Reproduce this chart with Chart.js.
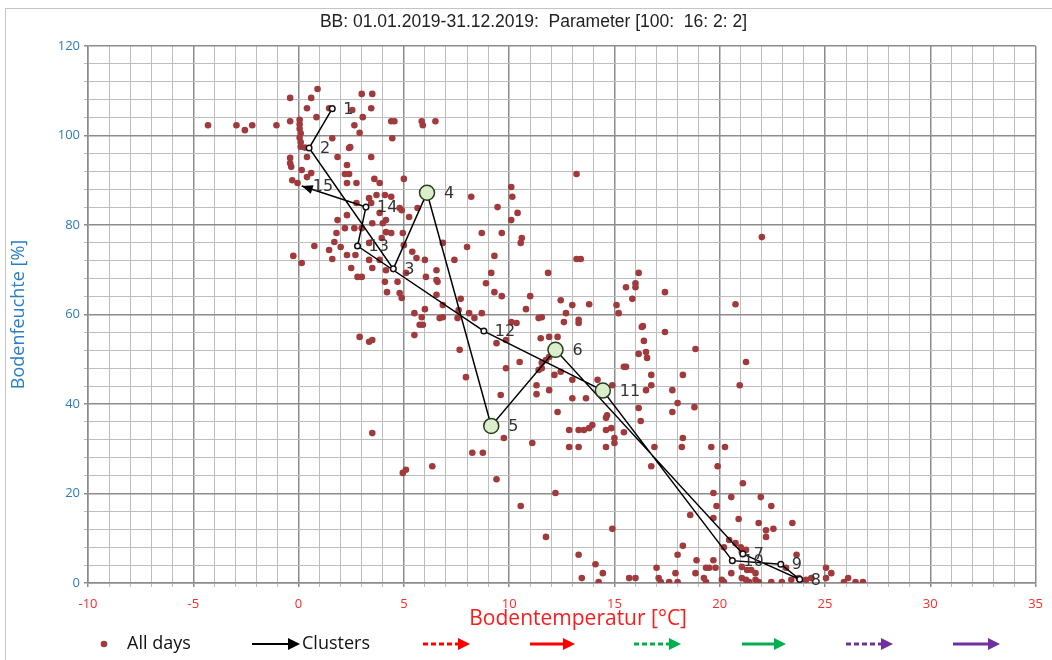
<!DOCTYPE html>
<html>
<head>
<meta charset="utf-8">
<script src="https://cdn.jsdelivr.net/npm/chart.js@4.4.1/dist/chart.umd.min.js"></script>
<style>
  html, body { margin: 0; padding: 0; background: #fff; }
  #wrap { width: 1052px; height: 660px; position: relative; }
</style>
</head>
<body>
<div id="wrap"><canvas id="soilChart"></canvas></div>
<script>
// daily values: [Bodentemperatur °C, Bodenfeuchte %]
const allDays = [
  [-4.3,102.3],[-2.95,102.3],[-2.55,101.2],[-2.2,102.3],[-1.05,102.3],
  [-0.4,108.4],[-0.4,103.2],[0.6,108.4],[0.9,110.4],[0.4,106.1],[0.85,104.1],[1.45,106.1],
  [0.05,103.5],[0.05,102.5],[0.05,101.5],[0.1,100.5],[0.05,99.5],[0.1,98.5],[0.1,97.5],[0.3,97.3],
  [-0.4,95],[-0.4,93.8],[-0.35,93],[0.4,95.2],[0.15,92.3],[-0.3,90],[-0.05,89.4],[0.4,90.7],[0.6,91.6],
  [1.6,99.4],[1.85,95.2],[2.45,97.4],[2.3,93.4],[2.2,91.4],[2.4,91.4],[2.3,89.4],[2.75,89.4],
  [1.85,81.1],[2.2,79.3],[2.65,79.3],[1.8,78.2],[1.7,76.2],[0.75,75.3],[1.45,74.4],[2.0,75.1],
  [2.3,73.3],[1.6,72.4],[-0.25,73.1],[0.15,71.5],[2.5,70.4],[2.8,68.4],[2.7,73.3],
  [3.0,109.3],[3.5,109.3],[2.55,105.7],[3.45,106.1],[3.05,104.1],[4.4,103.2],[4.55,103.2],
  [5.85,103.2],[5.9,102.3],[6.5,103.2],[2.9,100.6],[4.45,99.4],[2.4,97.2],[3.45,95.2],[2.65,102.3],
  [3.6,90.3],[5.0,90.3],[3.85,89.4],[8.2,86.3],[3.35,86.0],[3.7,86.7],[4.1,86.7],[4.4,86.3],
  [3.45,84.9],[4.8,83.8],[4.9,83.3],[3.85,82.7],[2.75,84.9],[2.3,82.2],[4.15,81.1],[5.25,81.8],
  [5.65,83.8],[8.7,78.2],[3.5,80.4],[4.0,80.4],[3.0,79.3],[4.15,78.4],[4.4,78.2],[4.95,78.2],
  [3.95,77.1],[3.35,76.0],[5.0,75.5],[6.85,76.0],[8.0,75.1],[5.4,74.0],[3.35,72.2],[3.85,72.2],
  [5.6,72.6],[7.4,72.2],[6.55,69.9],[6.55,67.7],[4.15,69.9],[3.0,68.4],[4.1,67.3],[6.05,68.4],[8.9,67.0],
  [9.45,84.0],[10.1,88.5],[10.15,86.3],[10.4,82.7],[10.1,81.1],[13.2,91.4],[10.6,77.1],[10.55,76.0],
  [9.65,78.2],[13.2,72.4],[13.4,72.4],[9.3,73.1],[9.15,69.3],[11.85,69.3],[9.3,65.0],[9.65,64.1],
  [11.0,64.1],[10.8,61.2],[12.45,63.2],[13.0,62.1],[13.8,62.3],[15.1,62.1],[15.2,60.3],[15.55,66.1],
  [16.0,67.0],[16.0,66.1],[16.15,69.3],[12.7,60.3],[11.55,59.4],[13.3,58.8],[13.3,58.1],[10.1,58.3],
  [10.35,58.1],[8.7,60.3],[8.1,60.3],[8.35,59.2],[6.85,59.4],[6.7,59.2],[5.85,59.4],[5.5,60.3],
  [5.5,55.4],[5.75,57.7],[5.9,57.7],[6.55,64.4],[6.6,67.3],[6.0,72.2],[5.1,69.3],[4.8,64.8],
  [4.9,63.7],[4.2,65.0],[3.5,70.4],[7.65,52.1],[9.4,53.6],[10.5,49.4],[9.85,48.0],[7.95,46.0],
  [11.5,54.7],[11.9,55.0],[12.3,55.0],[11.4,47.6],[11.55,49.2],[11.3,44.2],[11.9,43.1],[12.45,47.2],
  [13.0,45.4],[13.65,41.3],[13.0,41.3],[12.3,38.2],[12.85,34.2],[13.3,34.2],[14.2,45.4],[14.6,36.9],
  [14.65,37.5],[14.85,34.6],[13.95,35.3],[13.8,34.6],[15.0,32.4],[15.45,33.7],[16.15,39.1],[16.25,36.2],
  [16.5,43.1],[16.75,44.2],[16.4,54.1],[16.5,51.6],[16.3,57.2],[15.45,48.3],[15.55,48.3],[9.6,42.0],
  [9.75,32.4],[11.1,31.3],[12.85,30.4],[13.3,30.4],[14.6,30.4],[16.9,30.4],[3.5,33.5],[2.9,55.0],
  [3.35,53.9],[3.5,54.3],[4.95,24.6],[5.1,25.3],[6.35,26.1],[4.7,67.3],[6.0,61.2],[6.85,62.1],
  [7.55,59.2],[7.7,63.5],[7.6,61.0],[11.4,59.2],[12.6,58.3],[9.85,54.3],[11.9,50.5],[11.75,49.8],
  [11.55,48.0],[12.15,46.5],[14.9,44.2],[11.3,42.2],
  [8.25,29.1],[8.75,29.1],[9.4,23.2],[10.55,17.2],[12.2,20.1],[11.75,10.3],[13.55,34.2],[14.6,34.2],
  [15.0,31.3],[16.75,26.1],[14.9,12.1],[13.3,6.3],[14.1,4.2],[14.45,2.2],[13.45,1.1],[14.25,0.2],
  [15.7,1.1],[16.0,1.1],[17.0,3.4],[17.1,1.1],[17.2,0.2],[17.6,0.2],[18.0,0.2],[17.9,2.2],[18.0,6.3],
  [15.85,63.5],[17.4,65.0],[20.75,62.3],[16.35,57.4],[17.4,56.1],[18.85,52.3],[16.15,51.2],[16.55,50.3],
  [21.25,49.4],[16.75,46.5],[18.25,46.5],[20.95,44.2],[17.75,43.1],[18.0,40.2],[18.8,39.3],[17.75,38.2],
  [18.25,32.4],[18.2,30.4],[19.6,30.4],[20.25,30.4],[19.9,26.1],[21.1,22.3],[19.7,20.1],[20.55,19.2],
  [21.95,19.2],[19.85,17.2],[22.45,17.2],[18.6,15.2],[19.7,14.5],[20.9,14.3],[21.85,13.4],[23.45,13.4],
  [22.2,11.8],[22.55,12.1],[22.2,10.3],[18.25,8.3],[18.9,5.1],[19.7,5.1],[20.45,9.6],[20.75,8.9],
  [21.0,8.0],[21.05,6.9],[21.25,7.4],[20.2,8.0],[23.65,6.3],[18.85,2.2],[19.35,3.4],[19.5,3.4],
  [19.8,3.4],[20.55,2.2],[21.05,3.6],[21.3,2.9],[21.5,2.9],[21.7,2.2],[19.35,0.2],[20.2,0.2],
  [21.05,1.1],[21.4,0.2],[21.85,0.2],[22.45,0.2],[22.95,0.2],[23.4,0.7],[23.75,1.1],[24.1,0.7],
  [24.35,1.1],[25.05,1.1],[25.3,2.2],[25.9,0.2],[26.1,1.1],[26.45,0.2],[26.8,0.2],[25.05,3.4],
  [23.15,3.4],[19.25,1.1],[20.1,0.7],[21.25,0.7],[21.7,0.7],[22.0,77.3]
];

// cluster path, in order 1..15
const clusterIds   = [1, 2, 3, 4, 5, 6, 7, 8, 9, 10, 11, 12, 13, 14, 15];
const clusterTemp  = [1.6, 0.5, 4.5, 6.1, 9.15, 12.2, 21.1, 23.8, 22.9, 20.6, 14.45, 8.8, 2.8, 3.2, 0.15];
const clusterMoist = [106.0, 97.2, 70.2, 87.2, 35.1, 52.1, 6.5, 0.8, 4.2, 5.0, 43.0, 56.3, 75.3, 84.0, 88.7];
const bigClusters  = [4, 5, 6, 11];

const xTickLabels = [-10, -5, 0, 5, 10, 15, 20, 25, 30, 35];
const yTickLabels = [0, 20, 40, 60, 80, 100, 120];

const dotColor = '#a03a3c';

function arrow(ctx, x1, x2, y, color, dashed, lw) {
  ctx.save();
  ctx.strokeStyle = color;
  ctx.fillStyle = color;
  ctx.lineWidth = lw;
  if (dashed) ctx.setLineDash([5, 3]);
  ctx.beginPath();
  ctx.moveTo(x1, y);
  ctx.lineTo(x2 - 9, y);
  ctx.stroke();
  ctx.setLineDash([]);
  ctx.beginPath();
  ctx.moveTo(x2, y);
  ctx.lineTo(x2 - 12, y - 6);
  ctx.lineTo(x2 - 12, y + 6);
  ctx.closePath();
  ctx.fill();
  ctx.restore();
}

// frame + legend row at the bottom
const frameAndLegend = {
  id: 'frameAndLegend',
  beforeDraw(chart) {
    const ctx = chart.ctx;
    ctx.save();
    ctx.fillStyle = '#fff';
    ctx.fillRect(0, 0, chart.width, chart.height);
    ctx.strokeStyle = '#c4c4c4';
    ctx.lineWidth = 1;
    ctx.strokeRect(5.5, 8.5, chart.width + 10, chart.height + 10);
    ctx.restore();
  },
  afterDraw(chart) {
    const ctx = chart.ctx;
    const y = 644;
    ctx.save();
    ctx.fillStyle = dotColor;
    ctx.beginPath();
    ctx.arc(104, y, 3.3, 0, Math.PI * 2);
    ctx.fill();
    ctx.font = '18px "Open Sans"';
    ctx.fillStyle = '#111';
    ctx.textBaseline = 'middle';
    ctx.fillText('All days', 127, y);
    arrow(ctx, 252, 300, y, '#000', false, 2);
    ctx.fillText('Clusters', 302, y);
    arrow(ctx, 423, 470, y, '#ff0000', true, 2.8);
    arrow(ctx, 530, 575, y, '#ff0000', false, 2.8);
    arrow(ctx, 634, 681, y, '#00b050', true, 2.8);
    arrow(ctx, 742, 786, y, '#00b050', false, 2.8);
    arrow(ctx, 846, 893, y, '#7030a0', true, 2.8);
    arrow(ctx, 953, 1000, y, '#7030a0', false, 2.8);
    ctx.restore();
  }
};

// numbers beside cluster markers and arrowhead at the last cluster
const clusterLabels = {
  id: 'clusterLabels',
  afterDatasetsDraw(chart) {
    const pts = chart.getDatasetMeta(0).data;
    const ctx = chart.ctx;
    ctx.save();
    const a = pts[pts.length - 2], b = pts[pts.length - 1];
    const ang = Math.atan2(b.y - a.y, b.x - a.x);
    const c = Math.cos(ang), s = Math.sin(ang);
    ctx.fillStyle = '#000';
    ctx.beginPath();
    ctx.moveTo(b.x, b.y);
    ctx.lineTo(b.x - 11 * c + 4.5 * s, b.y - 11 * s - 4.5 * c);
    ctx.lineTo(b.x - 11 * c - 4.5 * s, b.y - 11 * s + 4.5 * c);
    ctx.closePath();
    ctx.fill();
    ctx.font = '16px "DejaVu Sans"';
    ctx.fillStyle = '#333';
    ctx.textBaseline = 'middle';
    pts.forEach((p, i) => {
      const off = bigClusters.includes(clusterIds[i]) ? 17 : 11;
      ctx.fillText(String(clusterIds[i]), p.x + off, p.y + 1);
    });
    ctx.restore();
  }
};

const gridColor = v => (v % 5 === 0 ? '#8c8c8c' : '#bdbdbd');

new Chart(document.getElementById('soilChart'), {
  type: 'scatter',
  data: {
    datasets: [
      {
        label: 'Clusters',
        data: clusterTemp.map((t, i) => ({ x: t, y: clusterMoist[i] })),
        showLine: true,
        borderColor: '#000',
        borderWidth: 1.5,
        pointRadius: clusterIds.map(id => id === 15 ? 0 : bigClusters.includes(id) ? 7.5 : 2.8),
        pointBackgroundColor: clusterIds.map(id => bigClusters.includes(id) ? '#dcedcb' : '#ffffff'),
        pointBorderColor: clusterIds.map(id => bigClusters.includes(id) ? '#23401d' : '#111'),
        pointBorderWidth: 1.5,
        order: 0
      },
      {
        label: 'All days',
        data: allDays.map(([x, y]) => ({ x, y })),
        pointRadius: 3.3,
        pointBackgroundColor: dotColor,
        pointBorderWidth: 0,
        order: 1
      }
    ]
  },
  options: {
    responsive: true,
    maintainAspectRatio: false,
    animation: false,
    layout: { padding: { left: 30, right: 15, top: 0, bottom: 28 } },
    plugins: {
      legend: { display: false },
      tooltip: { enabled: false },
      title: {
        display: true,
        text: 'BB: 01.01.2019-31.12.2019:  Parameter [100:  16: 2: 2]',
        color: '#222',
        font: { family: 'Liberation Sans', size: 17.5, weight: 'normal' },
        padding: { top: 12, bottom: 13 }
      }
    },
    scales: {
      x: {
        type: 'linear',
        min: -10,
        max: 35,
        afterFit: s => { s.height = 49; },
        ticks: {
          stepSize: 1,
          maxTicksLimit: 100,
          autoSkip: false,
          maxRotation: 0,
          padding: 9,
          color: '#ff2a2a',
          font: { family: 'Open Sans', size: 13 },
          callback: v => (xTickLabels.includes(v) ? v : '')
        },
        grid: {
          color: c => gridColor(c.tick.value),
          lineWidth: c => (c.tick.value % 5 === 0 ? 1.5 : 1),
          tickLength: 4
        },
        border: { color: '#8c8c8c', width: 1.5 },
        title: {
          display: true,
          text: '      Bodentemperatur [°C]',
          color: '#ff1a1a',
          font: { family: 'Open Sans', size: 21 },
          padding: { top: 0, bottom: 0 }
        }
      },
      y: {
        min: 0,
        max: 120,
        afterFit: s => { s.width = 58; },
        ticks: {
          stepSize: 4,
          maxTicksLimit: 100,
          autoSkip: false,
          padding: 4,
          color: '#2e7cc0',
          font: { family: 'Open Sans', size: 13 },
          callback: v => (yTickLabels.includes(v) ? v : '')
        },
        grid: {
          color: c => (c.tick.value % 20 === 0 ? '#8c8c8c' : '#bdbdbd'),
          lineWidth: c => (c.tick.value % 20 === 0 ? 1.5 : 1),
          tickLength: 4
        },
        border: { color: '#8c8c8c', width: 1.5 },
        title: {
          display: true,
          text: 'Bodenfeuchte [%]',
          color: '#2a7fc4',
          font: { family: 'Open Sans', size: 18 },
          padding: { top: -22, bottom: 0 }
        }
      }
    }
  },
  plugins: [frameAndLegend, clusterLabels]
});
</script>
</body>
</html>
